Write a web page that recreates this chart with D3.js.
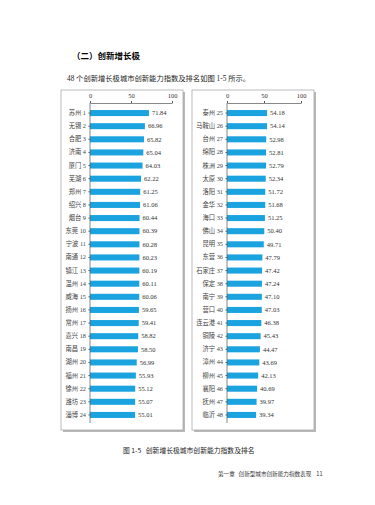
<!DOCTYPE html>
<html>
<head>
<meta charset="utf-8">
<script src="https://cdn.jsdelivr.net/npm/d3@7"></script>
<style>
  body { margin: 0; background: #fff; }
  svg text { font-family: "Liberation Serif", "Noto Sans CJK SC", serif; white-space: pre; }
</style>
</head>
<body>
<div id="chart"></div>
<script>
// left column: ranks 1-24
const leftCities = ["苏州","无锡","合肥","济南","厦门","芜湖","郑州","绍兴","烟台","东莞","宁波","南通",
  "镇江","温州","威海","扬州","常州","嘉兴","南昌","湖州","福州","徐州","潍坊","淄博"];
const leftValues = [71.84,66.96,65.82,65.04,64.03,62.22,61.25,61.06,60.44,60.39,60.28,60.23,
  60.19,60.11,60.06,59.65,59.41,58.82,58.50,56.99,55.93,55.12,55.07,55.01];
// right column: ranks 25-48
const rightCities = ["泰州","马鞍山","台州","绵阳","株洲","太原","洛阳","金华","海口","佛山","昆明","东营",
  "石家庄","保定","南宁","营口","连云港","铜陵","济宁","漳州","柳州","襄阳","抚州","临沂"];
const rightValues = [54.18,54.14,52.98,52.81,52.79,52.34,51.72,51.68,51.25,50.40,49.71,47.79,
  47.42,47.24,47.10,47.03,46.38,45.43,44.47,43.69,42.13,40.69,39.97,39.34];
const axisTicks = [0, 50, 100];

const W = 375, H = 505;
const svg = d3.select("#chart").append("svg")
  .attr("width", W)
  .attr("height", H);

// heading + intro text
svg.append("text")
  .attr("x", 72).attr("y", 59)
  .attr("font-size", 8.5).attr("font-weight", "bold")
  .style("font-family", "'Noto Sans CJK SC'")
  .text("（二）创新增长极");

svg.append("text")
  .attr("x", 67).attr("y", 81)
  .attr("font-size", 7.3)
  .attr("fill", "#222")
  .text("48 个创新增长极城市创新能力指数及排名如图 1-5 所示。");

function panel(cities, values, startRank, box, x0, x1) {
  // shadow + frame
  svg.append("rect")
    .attr("x", box.x + 2).attr("y", box.y + 2)
    .attr("width", box.w).attr("height", box.h)
    .attr("fill", "#b8b8b8");
  svg.append("rect")
    .attr("x", box.x).attr("y", box.y)
    .attr("width", box.w).attr("height", box.h)
    .attr("fill", "#fff")
    .attr("stroke", "#aaa").attr("stroke-width", 0.8);

  const labels = cities.map((c, i) => c + " " + (startRank + i));
  const data = labels.map((l, i) => ({label: l, value: values[i]}));

  const x = d3.scaleLinear().domain([0, 100]).range([x0, x1]);
  const y = d3.scaleBand()
    .domain(labels)
    .range([106.5, 421.5])
    .paddingInner(0.54)
    .paddingOuter(0.27);

  const g = svg.append("g");

  g.selectAll("rect.bar").data(data)
    .enter()
      .append("rect")
        .attr("class", "bar")
        .attr("x", x(0))
        .attr("y", d => y(d.label))
        .attr("width", d => x(d.value) - x(0))
        .attr("height", y.bandwidth())
        .style("fill", "#1ba3e0");

  g.selectAll("text.val").data(data)
    .enter()
      .append("text")
        .attr("class", "val")
        .attr("x", d => x(d.value) + 3)
        .attr("y", d => y(d.label) + y.bandwidth() / 2)
        .attr("dy", "0.35em")
        .attr("font-size", 6.5)
        .attr("fill", "#333")
        .text(d => d.value.toFixed(2));

  // top axis
  const top = svg.append("g")
    .attr("transform", "translate(0,103)")
    .call(d3.axisTop(x).tickValues(axisTicks).tickSize(2).tickSizeOuter(0));
  top.select(".domain").attr("stroke", "#555").attr("stroke-width", 0.7);
  top.selectAll(".tick line").attr("stroke", "#555");
  top.selectAll(".tick text")
    .attr("font-size", 6.5).attr("fill", "#333")
    .style("font-family", "'Liberation Serif'");

  // left axis with city labels
  const left = svg.append("g")
    .attr("transform", "translate(" + x(0) + ",0)")
    .call(d3.axisLeft(y).tickSize(1.5).tickSizeOuter(0));
  left.select(".domain").attr("stroke", "#555").attr("stroke-width", 0.7)
    .attr("d", "M0,103V423");
  left.selectAll(".tick line").attr("stroke", "#555");
  left.selectAll(".tick text")
    .attr("font-size", 6.3).attr("fill", "#444")
    .attr("x", -4);
}

panel(leftCities, leftValues, 1, {x: 61, y: 90, w: 122, h: 340}, 90, 172);
panel(rightCities, rightValues, 25, {x: 192, y: 90, w: 122, h: 340}, 227, 301);

// caption
svg.append("text")
  .attr("x", 123).attr("y", 453)
  .attr("font-size", 6.8)
  .attr("fill", "#222")
  .style("font-family", "'Noto Sans CJK SC'")
  .text("图 1-5   创新增长极城市创新能力指数及排名");

// footer
svg.append("text")
  .attr("x", 218).attr("y", 476)
  .attr("font-size", 5.6)
  .attr("fill", "#333")
  .style("font-family", "'Noto Sans CJK SC'")
  .text("第一章   创新型城市创新能力指数表现    11");
</script>
</body>
</html>
